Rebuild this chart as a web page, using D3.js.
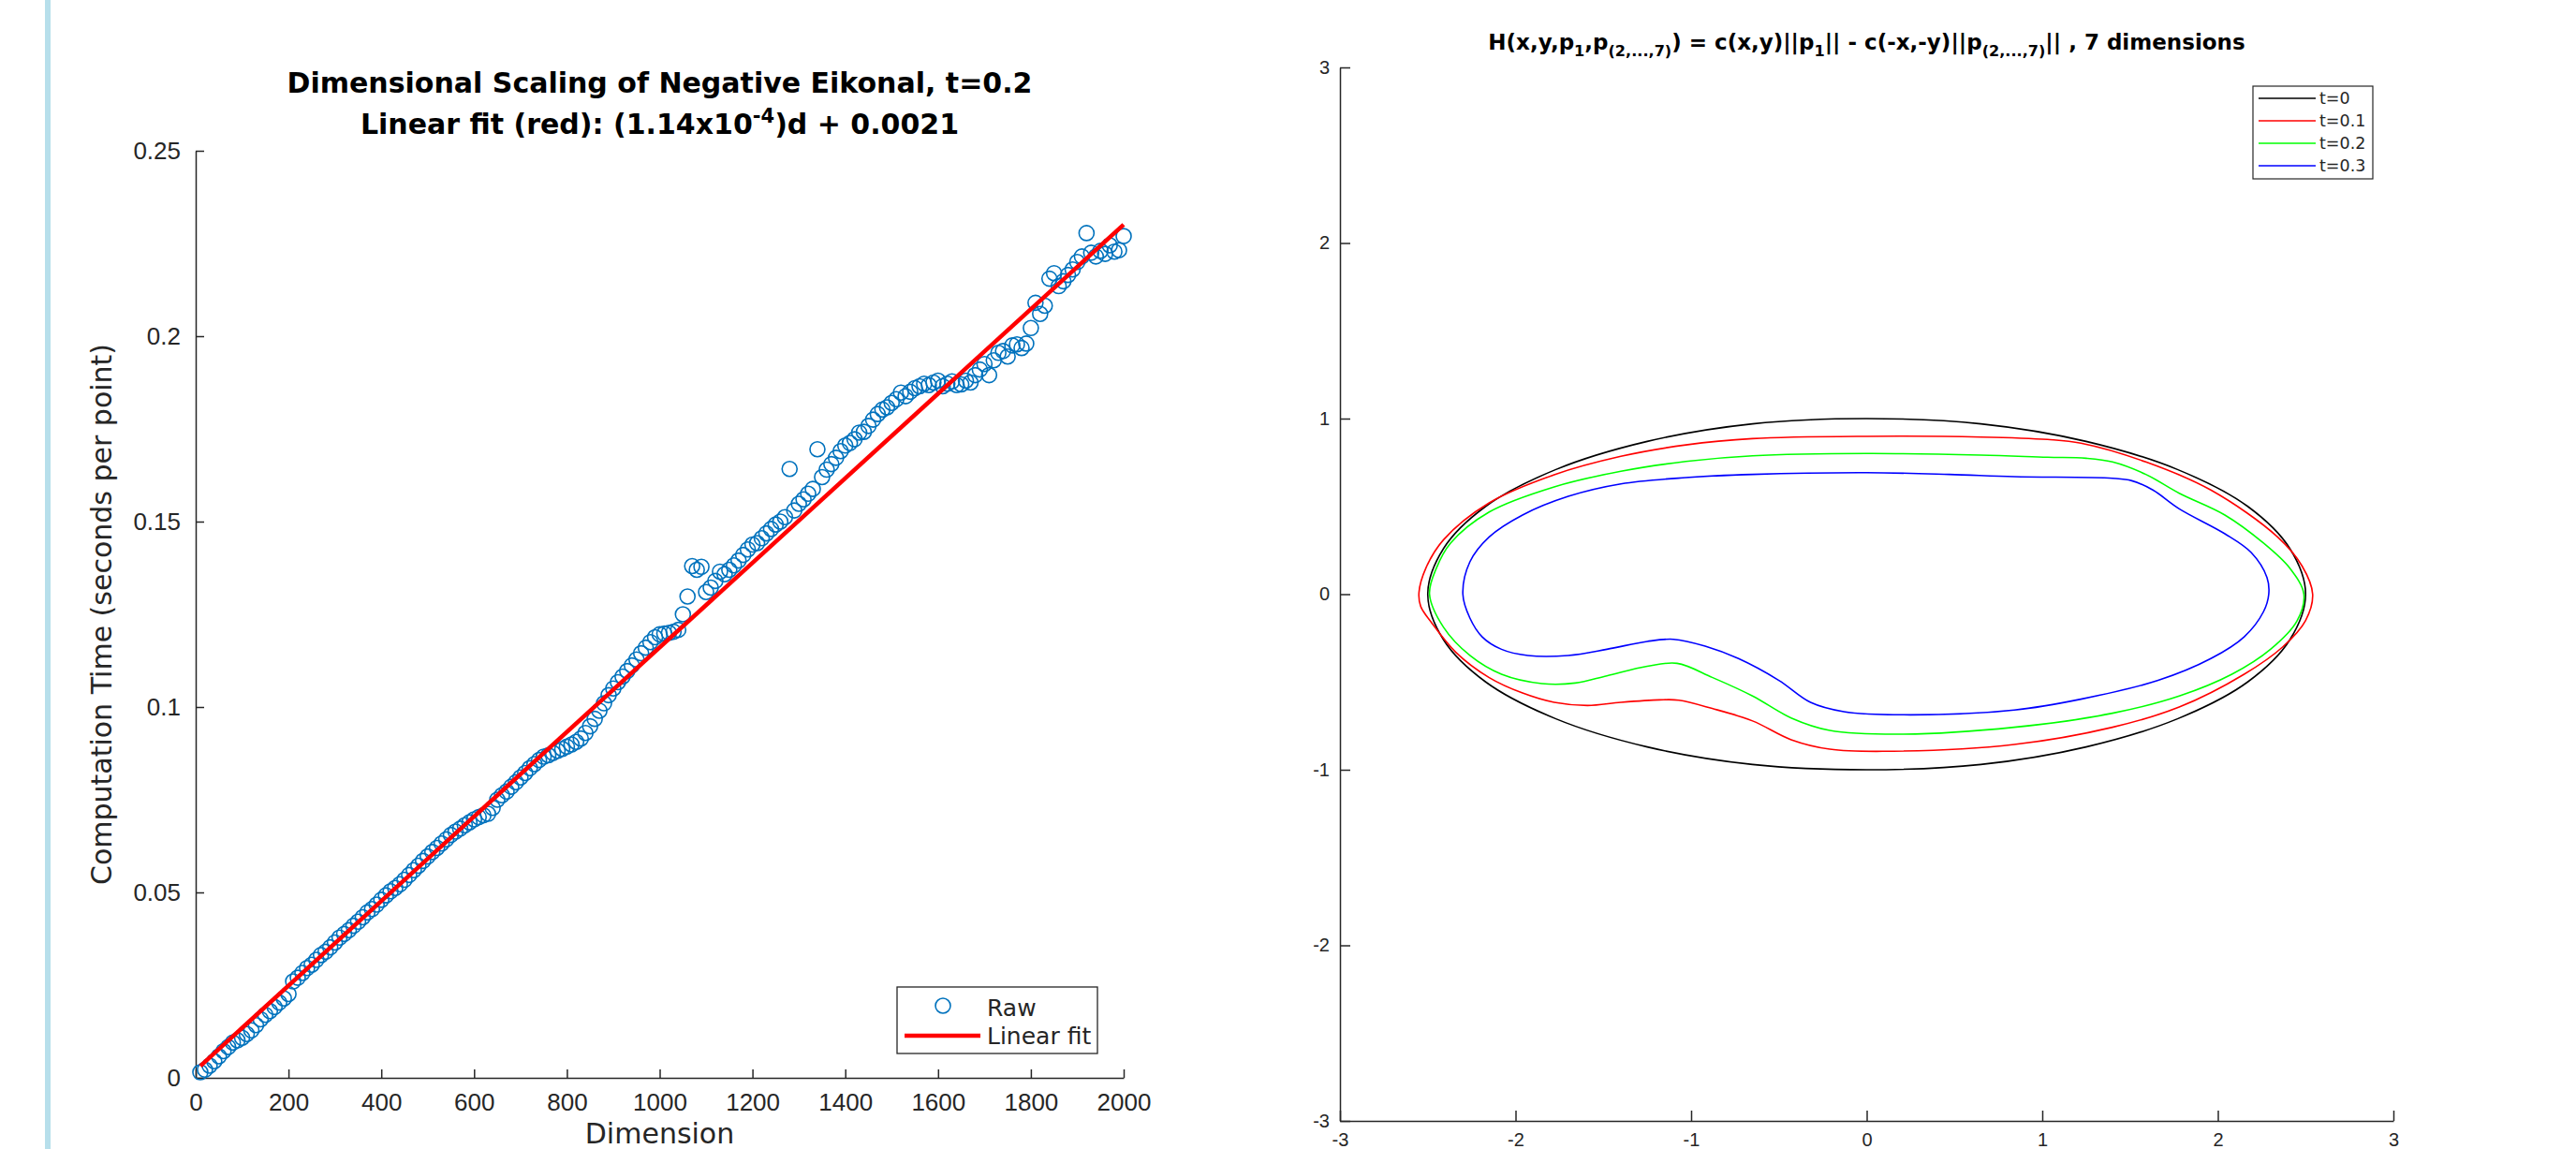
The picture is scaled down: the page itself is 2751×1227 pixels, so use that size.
<!DOCTYPE html>
<html>
<head>
<meta charset="utf-8">
<script src="https://cdn.jsdelivr.net/npm/d3@7"></script>
<style>
  body { margin: 0; background: #fff; }
  svg { display: block; font-family: "DejaVu Sans", sans-serif; }
  .axis path, .axis line { stroke: #262626; stroke-width: 1.5; }
  .axis text { fill: #262626; }
</style>
</head>
<body>
<div id="chart"></div>
<script>
// Left panel: timing per dimension (sampled every 10 dimensions)
var dimensions = d3.range(10, 2001, 10);
var rawTimes = [
  0.0015, 0.0022, 0.0033, 0.0045, 0.0058, 0.0072, 0.0083, 0.0095, 0.0101, 0.0108,
  0.0118, 0.0128, 0.0142, 0.0158, 0.0170, 0.0180, 0.0191, 0.0203, 0.0214, 0.0226,
  0.0260, 0.0270, 0.0283, 0.0296, 0.0305, 0.0318, 0.0331, 0.0340, 0.0352, 0.0365,
  0.0378, 0.0388, 0.0398, 0.0410, 0.0421, 0.0433, 0.0446, 0.0455, 0.0467, 0.0480,
  0.0492, 0.0503, 0.0512, 0.0522, 0.0534, 0.0547, 0.0560, 0.0572, 0.0585, 0.0597,
  0.0609, 0.0620, 0.0632, 0.0643, 0.0655, 0.0664, 0.0672, 0.0681, 0.0689, 0.0697,
  0.0703, 0.0708, 0.0712, 0.0728, 0.0750, 0.0762, 0.0772, 0.0785, 0.0797, 0.0810,
  0.0822, 0.0835, 0.0846, 0.0857, 0.0866, 0.0870, 0.0876, 0.0882, 0.0887, 0.0893,
  0.0899, 0.0906, 0.0915, 0.0930, 0.0948, 0.0968, 0.0990, 0.1010, 0.1032, 0.1050,
  0.1067, 0.1082, 0.1097, 0.1112, 0.1128, 0.1145, 0.1160, 0.1175, 0.1188, 0.1196,
  0.1198, 0.1200, 0.1203, 0.1208, 0.1250, 0.1298, 0.1380, 0.1370, 0.1378, 0.1310,
  0.1322, 0.1340, 0.1365, 0.1358, 0.1370, 0.1382, 0.1395, 0.1410, 0.1425, 0.1438,
  0.1442, 0.1455, 0.1468, 0.1480, 0.1492, 0.1500, 0.1512, 0.1642, 0.1530, 0.1548,
  0.1560, 0.1575, 0.1588, 0.1695, 0.1620, 0.1640, 0.1655, 0.1672, 0.1690, 0.1705,
  0.1712, 0.1722, 0.1740, 0.1742, 0.1758, 0.1775, 0.1790, 0.1802, 0.1808, 0.1820,
  0.1830, 0.1848, 0.1838, 0.1850, 0.1860, 0.1865, 0.1872, 0.1868, 0.1875, 0.1880,
  0.1865, 0.1872, 0.1878, 0.1868, 0.1870, 0.1880, 0.1875, 0.1895, 0.1910, 0.1925,
  0.1895, 0.1935, 0.1955, 0.1960, 0.1945, 0.1975, 0.1978, 0.1968, 0.1980, 0.2022,
  0.2090, 0.2060, 0.2082, 0.2155, 0.2170, 0.2135, 0.2148, 0.2165, 0.2180, 0.2200,
  0.2215, 0.2278, 0.2225, 0.2215, 0.2230, 0.2222, 0.2245, 0.2228, 0.2232, 0.2270
];
var fitEnds = [[10, 0.0032], [2000, 0.2301]];
var dimTicks = [0, 200, 400, 600, 800, 1000, 1200, 1400, 1600, 1800, 2000];
var timeTicks = [0, 0.05, 0.1, 0.15, 0.2, 0.25];

// Right panel: level sets for each t, as [x, y]
var levelTicks = [-3, -2, -1, 0, 1, 2, 3];
var levelNames = ["t=0", "t=0.1", "t=0.2", "t=0.3"];
var levelT0 = [
  [2.50, 0.00], [2.41, 0.26], [2.17, 0.50], [1.77, 0.71], [1.25, 0.87], [0.65, 0.97],
  [0.00, 1.00], [-0.65, 0.97], [-1.25, 0.87], [-1.77, 0.71], [-2.17, 0.50], [-2.41, 0.26],
  [-2.50, 0.00], [-2.41, -0.26], [-2.17, -0.50], [-1.77, -0.71], [-1.25, -0.87], [-0.65, -0.97],
  [0.00, -1.00], [0.65, -0.97], [1.25, -0.87], [1.77, -0.71], [2.17, -0.50], [2.41, -0.26]
];
var levelT1 = [
  [-2.55, 0.01], [-2.51, 0.15], [-2.41, 0.31], [-2.15, 0.52], [-1.78, 0.68], [-1.40, 0.785], [-1.03, 0.85],
  [-0.65, 0.886], [0.00, 0.899], [0.65, 0.895], [1.03, 0.881], [1.22, 0.86], [1.59, 0.753],
  [1.96, 0.593], [2.34, 0.326], [2.48, 0.16], [2.54, 0.0], [2.50, -0.15], [2.37, -0.30],
  [2.15, -0.456], [1.78, -0.643], [1.40, -0.758], [0.84, -0.856], [0.09, -0.895], [-0.21, -0.883],
  [-0.43, -0.829], [-0.65, -0.722], [-0.88, -0.651], [-1.07, -0.604], [-1.18, -0.602], [-1.40, -0.616],
  [-1.59, -0.634], [-1.78, -0.616], [-1.96, -0.563], [-2.15, -0.475], [-2.34, -0.331], [-2.48, -0.160],
  [-2.54, -0.07]
];
var levelT2 = [
  [-2.49, 0.0], [-2.45, 0.15], [-2.37, 0.291], [-2.15, 0.468], [-1.78, 0.611], [-1.40, 0.700], [-1.03, 0.756],
  [-0.65, 0.788], [0.00, 0.801], [0.65, 0.792], [1.03, 0.780], [1.25, 0.774], [1.40, 0.753],
  [1.59, 0.682], [1.78, 0.575], [2.04, 0.451], [2.26, 0.291], [2.41, 0.148], [2.49, 0.0],
  [2.45, -0.154], [2.30, -0.314], [2.08, -0.456], [1.78, -0.580], [1.40, -0.678], [0.84, -0.758],
  [0.21, -0.797], [-0.21, -0.776], [-0.43, -0.705], [-0.65, -0.580], [-0.88, -0.474], [-1.08, -0.394],
  [-1.25, -0.411], [-1.48, -0.465], [-1.66, -0.506], [-1.85, -0.509], [-2.08, -0.456], [-2.26, -0.349],
  [-2.41, -0.189]
];
var levelT3 = [
  [-2.30, 0.0], [-2.26, 0.184], [-2.15, 0.326], [-1.96, 0.451], [-1.70, 0.557], [-1.40, 0.628],
  [-1.03, 0.664], [-0.65, 0.682], [0.00, 0.692], [0.47, 0.682], [0.84, 0.669], [1.40, 0.660],
  [1.51, 0.646], [1.63, 0.593], [1.78, 0.486], [2.04, 0.344], [2.19, 0.237], [2.28, 0.095],
  [2.29, 0.0], [2.26, -0.100], [2.15, -0.243], [1.96, -0.367], [1.66, -0.491], [1.22, -0.598],
  [0.84, -0.660], [0.21, -0.687], [-0.13, -0.669], [-0.32, -0.616], [-0.50, -0.491], [-0.73, -0.367],
  [-0.92, -0.296], [-1.10, -0.257], [-1.25, -0.269], [-1.48, -0.314], [-1.70, -0.349], [-1.93, -0.349],
  [-2.08, -0.314], [-2.19, -0.243], [-2.26, -0.136]
];
var levelColors = ["#000000", "#ff0000", "#00ff00", "#0000ff"];

var width = 2751;
var height = 1227;
var ink = "#262626";

var svg = d3.select("#chart")
  .append("svg")
  .attr("width", width)
  .attr("height", height);

// page edge strip
svg.append("rect")
  .attr("x", 48).attr("y", 0)
  .attr("width", 6).attr("height", height)
  .attr("fill", "#b7dfeb");

// write text with sub/superscript pieces
function richText(sel, parts, size, shift) {
  var prev = 0;
  parts.forEach(function (p) {
    var off = p.sub ? shift : p.sup ? -shift : 0;
    sel.append("tspan")
      .attr("dy", off - prev)
      .style("font-size", p.sub || p.sup ? size * 0.7 + "px" : null)
      .text(p.t);
    prev = off;
  });
}

// ---------------- Left panel ----------------
var xL = d3.scaleLinear().domain([0, 2000]).range([209, 1200]);
var yL = d3.scaleLinear().domain([0, 0.25]).range([1151, 161]);

var left = svg.append("g");

left.append("g")
  .attr("class", "axis")
  .attr("transform", "translate(0,1151)")
  .call(d3.axisBottom(xL).tickValues(dimTicks).tickSizeInner(-9).tickSizeOuter(0).tickPadding(17).tickFormat((d) => d))
  .call((g) => g.selectAll("text").style("font-size", "26px"));

left.append("g")
  .attr("class", "axis")
  .attr("transform", "translate(209,0)")
  .call(d3.axisLeft(yL).tickValues(timeTicks).tickSizeInner(-9).tickSizeOuter(0).tickPadding(16).tickFormat((d) => d))
  .call((g) => g.selectAll("text").style("font-size", "26px"));

left.selectAll("circle.raw")
  .data(dimensions)
  .enter()
  .append("circle")
  .attr("class", "raw")
  .attr("cx", (d) => xL(d))
  .attr("cy", (d, i) => yL(rawTimes[i]))
  .attr("r", 8)
  .attr("fill", "none")
  .attr("stroke", "#0072bd")
  .attr("stroke-width", 1.6);

var fitLine = d3.line().x((d) => xL(d[0])).y((d) => yL(d[1]));
left.append("path")
  .attr("d", fitLine(fitEnds))
  .attr("fill", "none")
  .attr("stroke", "#ff0000")
  .attr("stroke-width", 4.5);

// titles and labels
left.append("text")
  .attr("x", 704.5).attr("y", 99)
  .attr("text-anchor", "middle")
  .style("font-size", "30px").style("font-weight", "bold")
  .attr("fill", "#000")
  .text("Dimensional Scaling of Negative Eikonal, t=0.2");

var t2 = left.append("text")
  .attr("x", 704.5).attr("y", 143)
  .attr("text-anchor", "middle")
  .style("font-size", "30px").style("font-weight", "bold")
  .attr("fill", "#000");
richText(t2, [{ t: "Linear fit (red): (1.14x10" }, { t: "-4", sup: true }, { t: ")d + 0.0021" }], 30, 12);

left.append("text")
  .attr("transform", "translate(119,656) rotate(-90)")
  .attr("text-anchor", "middle")
  .style("font-size", "30px")
  .attr("fill", ink)
  .text("Computation Time (seconds per point)");

left.append("text")
  .attr("x", 704.5).attr("y", 1221)
  .attr("text-anchor", "middle")
  .style("font-size", "30px")
  .attr("fill", ink)
  .text("Dimension");

// legend
var legL = left.append("g").attr("transform", "translate(958,1054)");
legL.append("rect")
  .attr("width", 214).attr("height", 71)
  .attr("fill", "#fff").attr("stroke", ink).attr("stroke-width", 1.3);
legL.append("circle")
  .attr("cx", 49).attr("cy", 20).attr("r", 8)
  .attr("fill", "none").attr("stroke", "#0072bd").attr("stroke-width", 1.6);
legL.append("line")
  .attr("x1", 8).attr("x2", 89).attr("y1", 52).attr("y2", 52)
  .attr("stroke", "#ff0000").attr("stroke-width", 4.5);
legL.selectAll("text.key")
  .data(["Raw", "Linear fit"])
  .enter()
  .append("text")
  .attr("class", "key")
  .attr("x", 96)
  .attr("y", (d, i) => 22 + i * 30)
  .attr("dy", "0.35em")
  .style("font-size", "25px")
  .attr("fill", ink)
  .text((d) => d);

// ---------------- Right panel ----------------
var xR = d3.scaleLinear().domain([-3, 3]).range([1431, 2556]);
var yR = d3.scaleLinear().domain([-3, 3]).range([1197, 72]);

var right = svg.append("g");

right.append("g")
  .attr("class", "axis")
  .attr("transform", "translate(0,1197)")
  .call(d3.axisBottom(xR).tickValues(levelTicks).tickSizeInner(-11).tickSizeOuter(0).tickPadding(13).tickFormat((d) => String(d)))
  .call((g) => g.selectAll("text").style("font-size", "20px"));

right.append("g")
  .attr("class", "axis")
  .attr("transform", "translate(1431,0)")
  .call(d3.axisLeft(yR).tickValues(levelTicks).tickSizeInner(-11).tickSizeOuter(0).tickPadding(11).tickFormat((d) => String(d)))
  .call((g) => g.selectAll("text").style("font-size", "20px"));

var levelLine = d3.line()
  .x((d) => xR(d[0]))
  .y((d) => yR(d[1]))
  .curve(d3.curveCatmullRomClosed.alpha(0.5));

right.selectAll("path.level")
  .data([levelT0, levelT1, levelT2, levelT3])
  .enter()
  .append("path")
  .attr("class", "level")
  .attr("d", (d) => levelLine(d))
  .attr("fill", "none")
  .attr("stroke", (d, i) => levelColors[i])
  .attr("stroke-width", 1.6);

var t3 = right.append("text")
  .attr("x", 1993.5).attr("y", 53)
  .attr("text-anchor", "middle")
  .style("font-size", "23px").style("font-weight", "bold")
  .attr("fill", "#000");
richText(t3, [
  { t: "H(x,y,p" }, { t: "1", sub: true }, { t: ",p" }, { t: "(2,...,7)", sub: true },
  { t: ") = c(x,y)||p" }, { t: "1", sub: true }, { t: "|| - c(-x,-y)||p" }, { t: "(2,...,7)", sub: true },
  { t: "|| , 7 dimensions" }
], 23, 7);

// legend
var legR = right.append("g").attr("transform", "translate(2406,92)");
legR.append("rect")
  .attr("width", 128).attr("height", 99)
  .attr("fill", "#fff").attr("stroke", ink).attr("stroke-width", 1.2);
var keys = legR.selectAll("g.key")
  .data(levelNames)
  .enter()
  .append("g")
  .attr("class", "key")
  .attr("transform", (d, i) => "translate(0," + (13 + i * 24) + ")");
keys.append("line")
  .attr("x1", 6).attr("x2", 67)
  .attr("stroke", (d, i) => levelColors[i])
  .attr("stroke-width", 1.6);
keys.append("text")
  .attr("x", 71)
  .attr("dy", "0.35em")
  .style("font-size", "17.5px")
  .attr("fill", ink)
  .text((d) => d);
</script>
</body>
</html>
